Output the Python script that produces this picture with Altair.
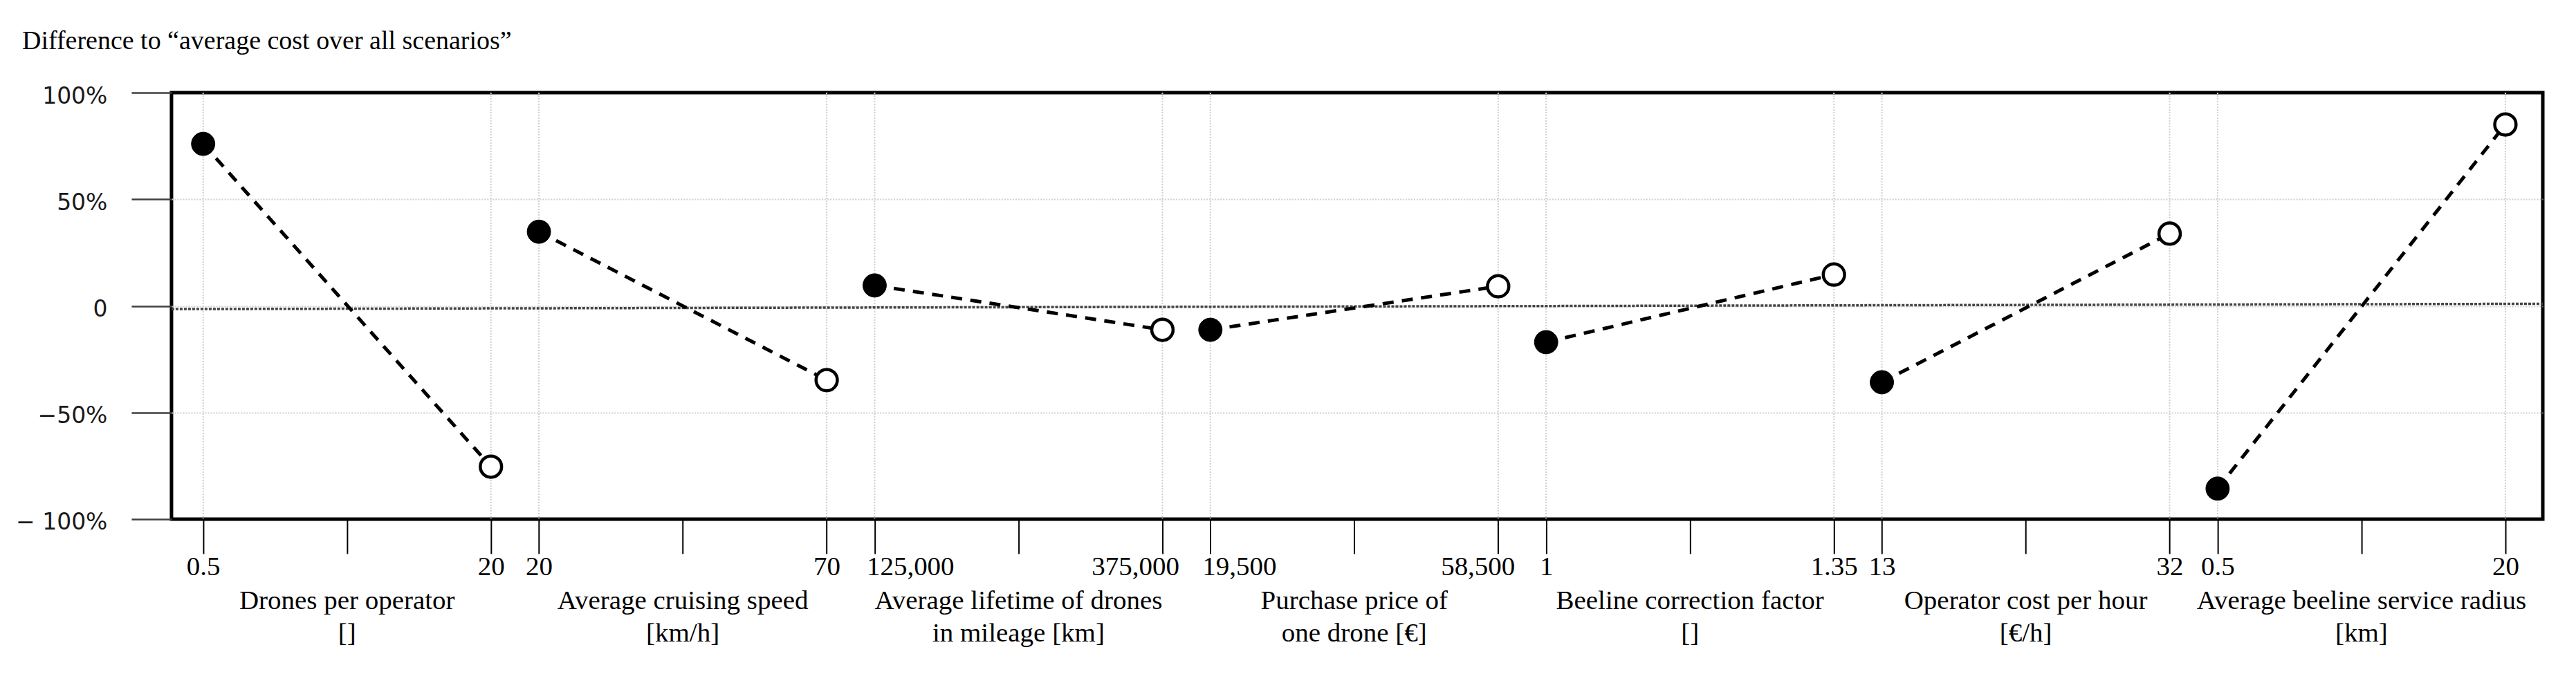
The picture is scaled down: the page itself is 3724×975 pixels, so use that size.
import json
import altair as alt
import pandas as pd

# ---------------- data ----------------
title_text = "Difference to \u201caverage cost over all scenarios\u201d"

category_names = [
    "Drones per operator",
    "Average cruising speed",
    "Average lifetime of drones",
    "Purchase price of",
    "Beeline correction factor",
    "Operator cost per hour",
    "Average beeline service radius",
]
category_units = ["[]", "[km/h]", "in mileage [km]", "one drone [\u20ac]", "[]", "[\u20ac/h]", "[km]"]

low_labels = ["0.5", "20", "125,000", "19,500", "1", "13", "0.5"]
high_labels = ["20", "70", "375,000", "58,500", "1.35", "32", "20"]

# difference to average cost, percent
low_values = [76.0, 34.8, 9.6, -11.2, -17.0, -35.8, -85.7]
high_values = [-75.4, -34.8, -11.2, 9.2, 14.7, 33.9, 85.1]

y_tick_values = [-100, -50, 0, 50, 100]
y_tick_labels = ["\u2212 100%", "\u221250%", "0", "50%", "100%"]

# slightly tilted dotted zero reference line (left end, right end), percent
zero_line = [-1.5, 1.0]

# ---------------- layout ----------------
STEP = 7      # one group + gap on the shared x axis
SPAN = 6      # low endpoint -> high endpoint
W, H = 3429, 617
SERIF = "Liberation Serif"
SANS = "DejaVu Sans"

rows = []
for i in range(len(category_names)):
    rows.append({"group": i, "pos": STEP * i, "value": low_values[i], "kind": "low"})
    rows.append({"group": i, "pos": STEP * i + SPAN, "value": high_values[i], "kind": "high"})
df = pd.DataFrame(rows)

cat_df = pd.DataFrame({
    "pos": [STEP * i + SPAN / 2 for i in range(len(category_names))],
    "label": [f"{n}\n{u}" for n, u in zip(category_names, category_units)],
})

tick_positions = sorted([STEP * i + k for i in range(len(category_names)) for k in (0, SPAN // 2, SPAN)])
n_pos = STEP * (len(category_names) - 1) + SPAN + 1
label_by_pos = [""] * n_pos
long_low, long_high = [], []
for i in range(len(category_names)):
    label_by_pos[STEP * i] = low_labels[i]
    label_by_pos[STEP * i + SPAN] = high_labels[i]
    if len(low_labels[i]) > 4:
        long_low.append(STEP * i)
    if len(high_labels[i]) > 4:
        long_high.append(STEP * i + SPAN)

x_label_expr = json.dumps(label_by_pos, ensure_ascii=False) + "[datum.value]"
test_low = f"indexof({json.dumps(long_low)}, datum.value) >= 0"
test_high = f"indexof({json.dumps(long_high)}, datum.value) >= 0"

y_label_expr = ""
for v, lab in zip(y_tick_values, y_tick_labels):
    y_label_expr += f"datum.value == {v} ? '{lab}' : "
y_label_expr += "''"

x_scale = alt.Scale(domain=[-0.66, n_pos - 1 + 0.78], nice=False, zero=False)
y_scale = alt.Scale(domain=[-100, 100], nice=False, zero=False)

x_axis = alt.Axis(
    values=tick_positions,
    labelExpr=x_label_expr,
    title=None,
    domain=False,
    grid=False,
    ticks=True,
    tickSize=50,
    tickWidth=2,
    tickColor="black",
    labelFont=SERIF,
    labelFontSize=39,
    labelColor="black",
    labelPadding=0,
    labelBaseline="top",
    labelOverlap=False,
    labelFlush=False,
    labelBound=False,
    labelAlign={"condition": [{"test": test_low, "value": "left"},
                              {"test": test_high, "value": "right"}],
                "value": "center"},
    labelOffset={"condition": [{"test": test_low, "value": -12},
                               {"test": test_high, "value": 24}],
                 "value": 0},
)

y_axis = alt.Axis(
    values=y_tick_values,
    labelExpr=y_label_expr,
    title=None,
    domain=False,
    grid=True,
    gridColor="#d0d0d0",
    gridDash=[2, 2],
    gridWidth=2,
    gridOpacity={"condition": {"test": "abs(datum.value) == 100", "value": 0}, "value": 1},
    ticks=True,
    tickSize=58,
    tickWidth=2.5,
    tickColor="#404040",
    labelFont=SANS,
    labelFontSize=33,
    labelColor="#1a1a1a",
    labelPadding=35,
    labelBaseline="middle",
    labelOffset=5,
    labelOverlap=False,
    labelFlush=False,
    labelBound=False,
)

x_enc = alt.X("pos:Q", scale=x_scale, axis=x_axis)
y_enc = alt.Y("value:Q", scale=y_scale, axis=y_axis)

base = alt.Chart(df)

vgrid = base.mark_rule(color="#d0d0d0", strokeWidth=2, strokeDash=[2, 2]).encode(
    x=x_enc, y=alt.value(0), y2=alt.value(H)
)

zero_df = pd.DataFrame({"value": [zero_line[0]], "value2": [zero_line[1]]})
zero_rule = alt.Chart(zero_df).mark_rule(color="#444444", strokeWidth=3.5, strokeDash=[4, 2]).encode(
    x=alt.value(0), x2=alt.value(W), y=y_enc, y2="value2:Q"
)

lines = base.mark_line(color="black", strokeWidth=5, strokeDash=[16, 12]).encode(
    x=x_enc, y=y_enc, detail="group:N", order="pos:Q"
)

filled = base.transform_filter("datum.kind == 'low'").mark_point(
    shape="circle", filled=True, fill="black", stroke="black", strokeWidth=1, size=1150, opacity=1
).encode(x=x_enc, y=y_enc)

opened = base.transform_filter("datum.kind == 'high'").mark_point(
    shape="circle", filled=True, fill="white", stroke="black", strokeWidth=4.5, size=950, opacity=1
).encode(x=x_enc, y=y_enc)

cat_text = alt.Chart(cat_df).mark_text(
    font=SERIF, fontSize=39, color="black", align="center", baseline="alphabetic",
    lineBreak="\n", lineHeight=47
).encode(x=alt.X("pos:Q", scale=x_scale, axis=x_axis), y=alt.value(H + 130), text="label:N")

title_df = pd.DataFrame({"t": [title_text]})
title_mark = alt.Chart(title_df).mark_text(
    font=SERIF, fontSize=38, color="black", align="left", baseline="alphabetic"
).encode(x=alt.value(-216), y=alt.value(-63), text="t:N")

chart = alt.layer(vgrid, zero_rule, lines, filled, opened, cat_text, title_mark).properties(
    width=W,
    height=H,
    padding={"left": 240, "top": 126, "right": 40, "bottom": 200},
    autosize=alt.AutoSizeParams(type="none"),
    background="white",
).configure_view(stroke="black", strokeWidth=5)

chart.save("out.html", embed_options={"renderer": "svg", "actions": False})
